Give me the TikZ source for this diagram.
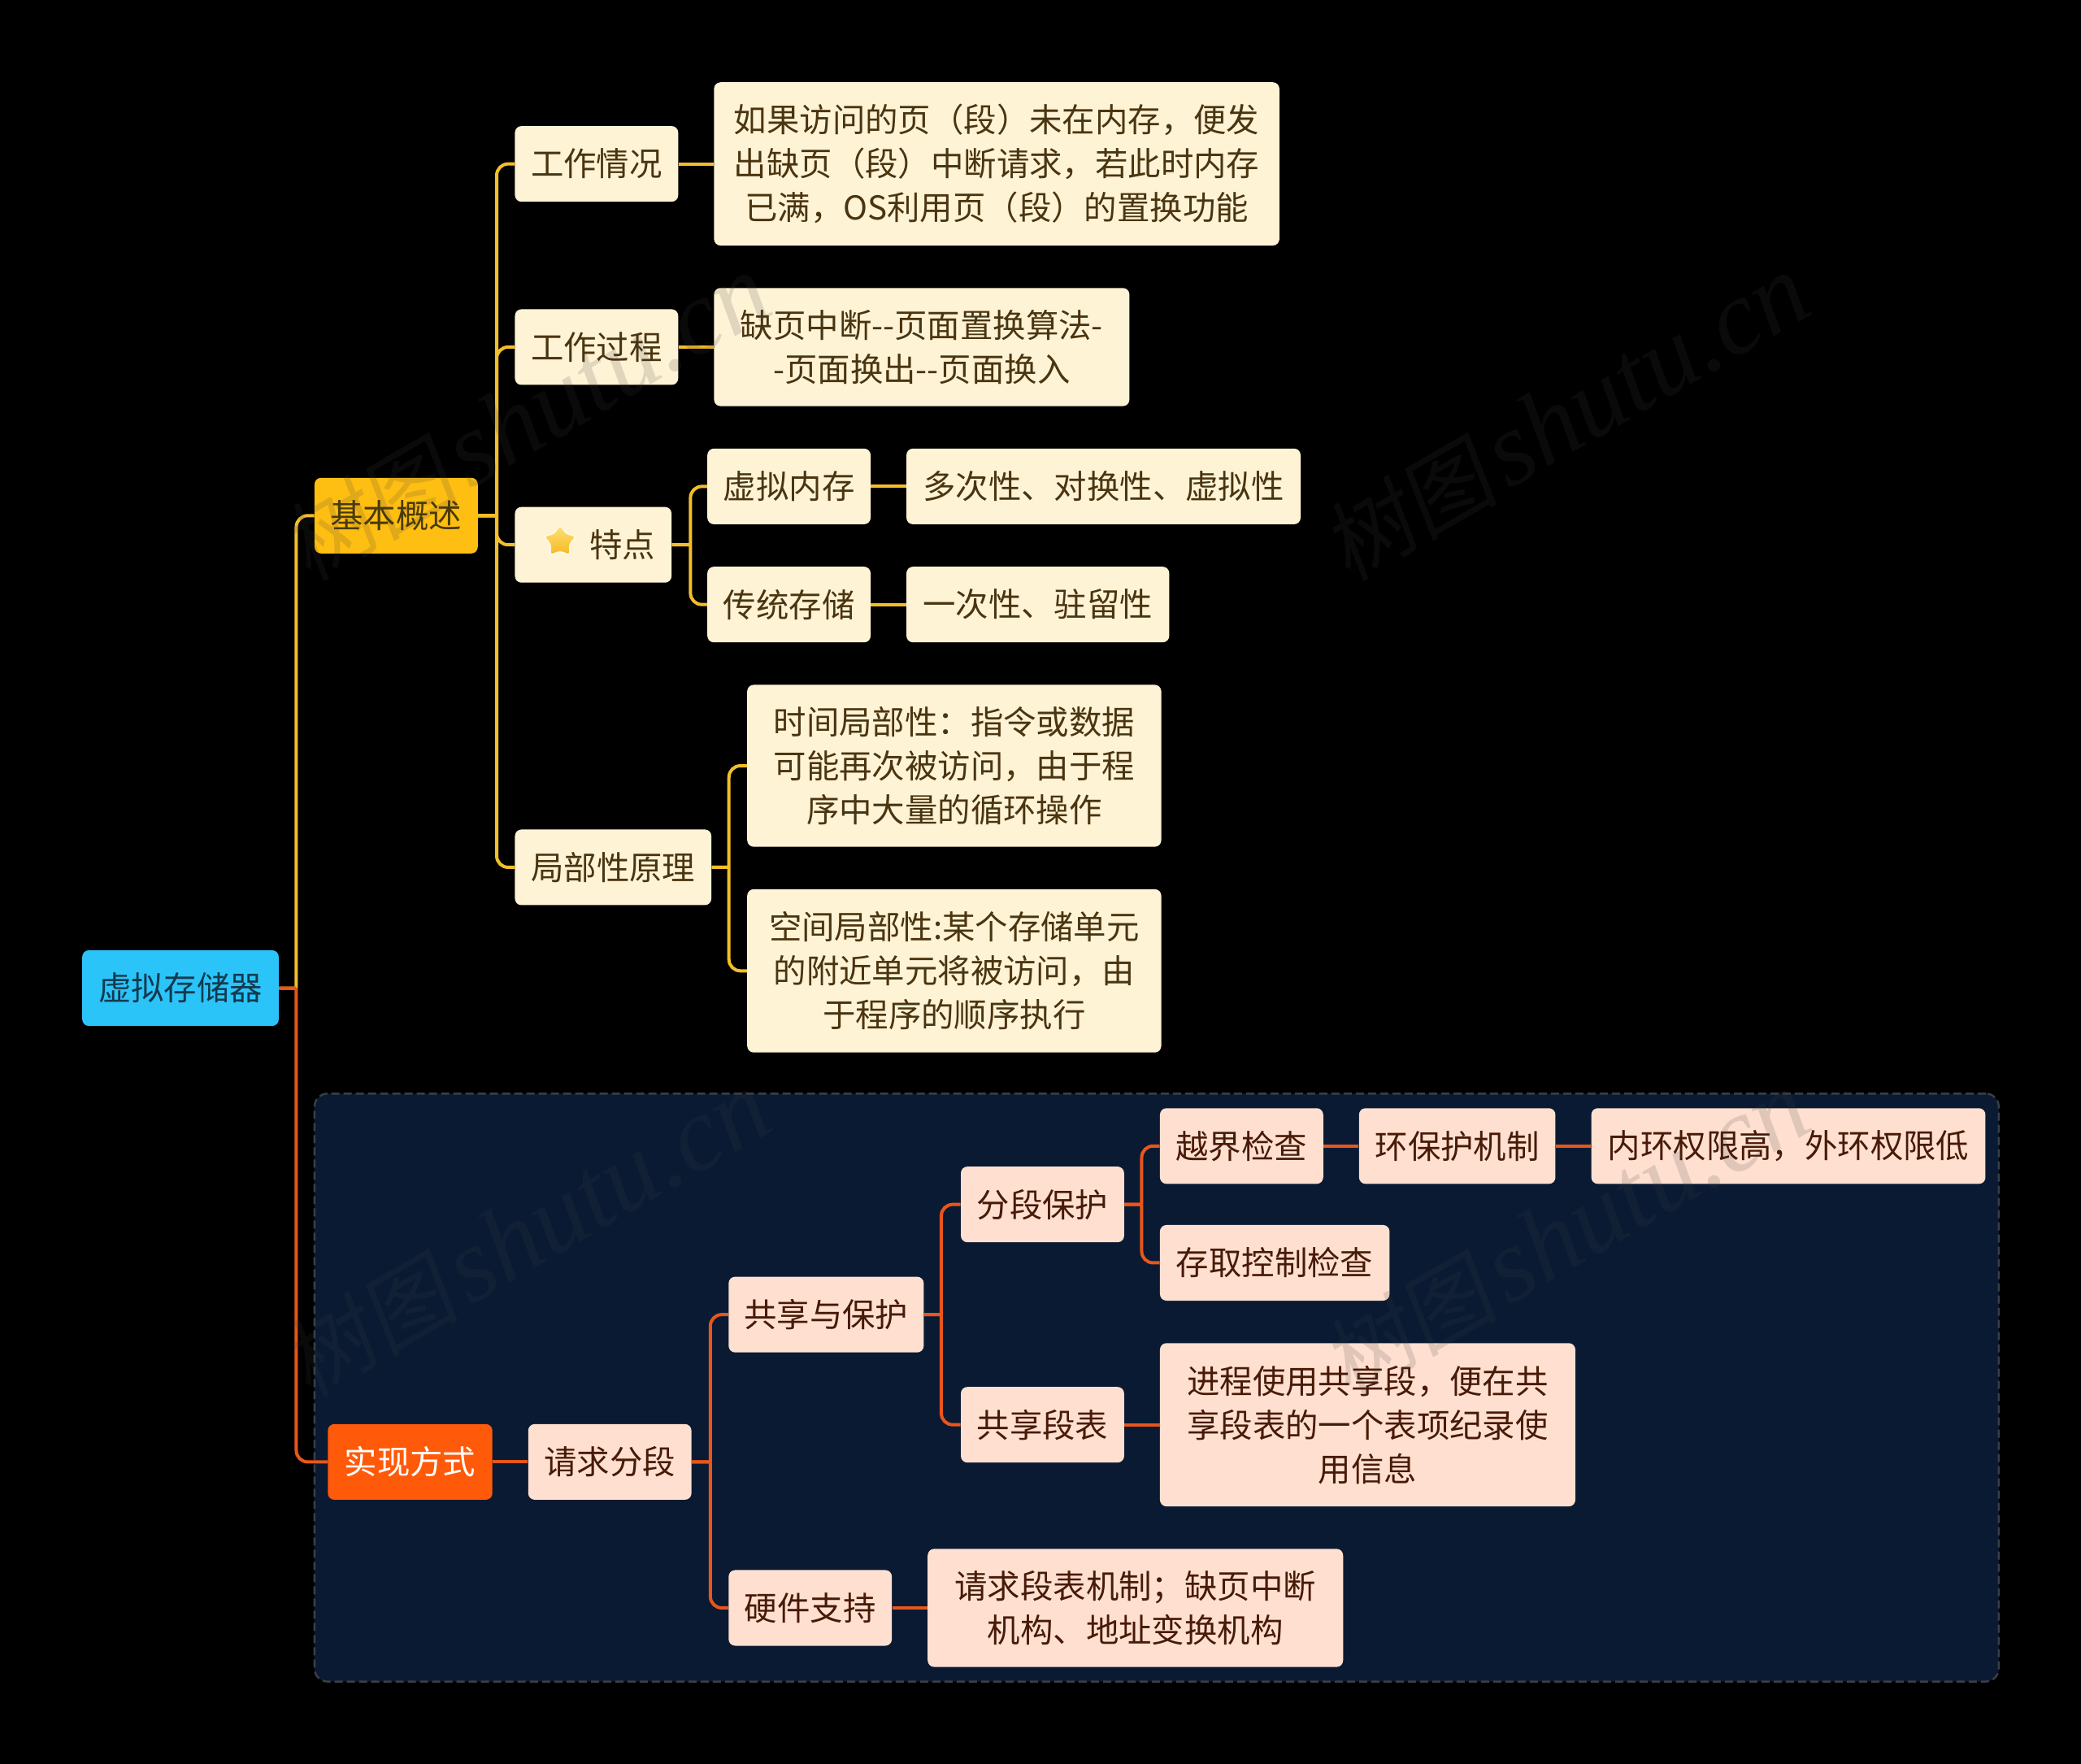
\documentclass[tikz,border=0pt]{standalone}
\usepackage{fontspec}
\setmainfont{Noto Sans CJK SC}
\newfontfamily\wmlatin{Liberation Serif}
\newfontfamily\wmcjk[FakeSlant=0.15]{Noto Sans CJK SC}
\usetikzlibrary{shapes.geometric}
\definecolor{rootfill}{HTML}{2BC4F9}
\definecolor{roottext}{HTML}{123A4E}
\definecolor{goldfill}{HTML}{FFBE12}
\definecolor{goldtext}{HTML}{4A3A08}
\definecolor{creamfill}{HTML}{FFF3D6}
\definecolor{creamtext}{HTML}{4A3510}
\definecolor{goldline}{HTML}{F2BE2A}
\definecolor{redfill}{HTML}{FF5A0A}
\definecolor{peachfill}{HTML}{FFE0D0}
\definecolor{peachtext}{HTML}{481A08}
\definecolor{redline}{HTML}{E8561C}
\definecolor{panelfill}{HTML}{0A1A33}
\definecolor{paneldash}{HTML}{3A3F46}
\definecolor{wmgray}{HTML}{404040}
\definecolor{startop}{HTML}{FFE27A}
\definecolor{starbottom}{HTML}{F4B820}
\definecolor{starhalo}{HTML}{FFF8E4}
\newcommand{\wmtext}{{\wmcjk\fontsize{54}{54}\selectfont 树图}\hspace{6pt}{\wmlatin\itshape\fontsize{65}{65}\selectfont shutu.cn}}
\tikzset{
  bx/.style n args={4}{at={({(#1+#3)/2},{(#2+#4)/2})},
    minimum width={(#3-#1)*0.8163pt},minimum height={(#4-#2)*0.8163pt}},
  nodebase/.style={rectangle,rounded corners=4pt,inner sep=0pt,align=center,
    font=\fontsize{20.2}{27}\selectfont},
  rootbox/.style={nodebase,fill=rootfill,text=roottext},
  goldbox/.style={nodebase,fill=goldfill,text=goldtext},
  creambox/.style={nodebase,fill=creamfill,text=creamtext},
  redbox/.style={nodebase,fill=redfill,text=white},
  peachbox/.style={nodebase,fill=peachfill,text=peachtext},
  goldedge/.style={draw=goldline,line width=2pt,rounded corners=7pt},
  rededge/.style={draw=redline,line width=2pt,rounded corners=7pt},
  wm/.style={text=wmgray,text opacity=0.16,rotate=30,inner sep=0pt},
}
\newcommand{\branchto}[4]{\draw[#1] (#2.east) -- +(#3,0) (#2.east) ++(#3,0) |- (#4.west);}
\begin{document}
\begin{tikzpicture}[x=0.8163pt,y=-0.8163pt]
\useasboundingbox (0,0) rectangle (1568,1329);
\fill[black] (0,0) rectangle (1568,1329);
\node[rectangle,rounded corners=8pt,fill=panelfill,draw=paneldash,dash pattern=on 5pt off 2.5pt,line width=1.2pt,bx={237}{824}{1506}{1267}] (panel) {};

\node[rootbox,bx={62}{716}{210}{773}] (root) {虚拟存储器};
\node[goldbox,bx={237}{360}{360}{417}] (basic) {基本概述};
\node[creambox,bx={388}{95}{511}{152}] (work) {工作情况};
\node[creambox,bx={538}{62}{964}{185}] (workd) {如果访问的页（段）未在内存，便发\\出缺页（段）中断请求，若此时内存\\已满，OS利用页（段）的置换功能};
\node[creambox,bx={388}{233}{511}{290}] (proc) {工作过程};
\node[creambox,bx={538}{217}{851}{306}] (procd) {缺页中断-{}-页面置换算法-\\-页面换出-{}-页面换入};
\node[creambox,bx={388}{382}{506}{439}] (feat) {\hspace{36pt}特点};
\node[star,star points=5,star point ratio=1.75,minimum size=21pt,inner sep=0pt,rounded corners=2pt,
  top color=startop,bottom color=starbottom,draw=starhalo,line width=0.8pt,at={(422,408)}] (staricon) {};
\node[creambox,bx={533}{338}{656}{395}] (vmem) {虚拟内存};
\node[creambox,bx={683}{338}{980}{395}] (vmemd) {多次性、对换性、虚拟性};
\node[creambox,bx={533}{427}{656}{484}] (trad) {传统存储};
\node[creambox,bx={683}{427}{881}{484}] (tradd) {一次性、驻留性};
\node[creambox,bx={388}{625}{536}{682}] (local) {局部性原理};
\node[creambox,bx={563}{516}{875}{638}] (ltime) {时间局部性：指令或数据\\可能再次被访问，由于程\\序中大量的循环操作};
\node[creambox,bx={563}{670}{875}{793}] (lspace) {空间局部性:某个存储单元\\的附近单元将被访问，由\\于程序的顺序执行};

\node[redbox,bx={247}{1073}{371}{1130}] (impl) {实现方式};
\node[peachbox,bx={398}{1073}{521}{1130}] (seg) {请求分段};
\node[peachbox,bx={549}{962}{696}{1019}] (share) {共享与保护};
\node[peachbox,bx={724}{879}{847}{936}] (segp) {分段保护};
\node[peachbox,bx={874}{835}{997}{892}] (bound) {越界检查};
\node[peachbox,bx={1024}{835}{1172}{892}] (ring) {环保护机制};
\node[peachbox,bx={1199}{835}{1496}{892}] (ringd) {内环权限高，外环权限低};
\node[peachbox,bx={874}{923}{1047}{980}] (access) {存取控制检查};
\node[peachbox,bx={724}{1045}{847}{1102}] (stab) {共享段表};
\node[peachbox,bx={874}{1012}{1187}{1135}] (stabd) {进程使用共享段，便在共\\享段表的一个表项纪录使\\用信息};
\node[peachbox,bx={549}{1183}{672}{1240}] (hw) {硬件支持};
\node[peachbox,bx={699}{1167}{1012}{1256}] (hwd) {请求段表机制；缺页中断\\机构、地址变换机构};

\branchto{goldedge}{root}{13}{basic}
\branchto{rededge}{root}{13}{impl}
\foreach \t in {work,proc,feat,local}
  {\branchto{goldedge}{basic}{14}{\t}}
\draw[goldedge] (work.east) -- (workd.west);
\draw[goldedge] (proc.east) -- (procd.west);
\foreach \t in {vmem,trad}
  {\branchto{goldedge}{feat}{14}{\t}}
\draw[goldedge] (vmem.east) -- (vmemd.west);
\draw[goldedge] (trad.east) -- (tradd.west);
\foreach \t in {ltime,lspace}
  {\branchto{goldedge}{local}{13}{\t}}

\draw[rededge] (impl.east) -- (seg.west);
\foreach \t in {share,hw}
  {\branchto{rededge}{seg}{14}{\t}}
\foreach \t in {segp,stab}
  {\branchto{rededge}{share}{13}{\t}}
\foreach \t in {bound,access}
  {\branchto{rededge}{segp}{13}{\t}}
\draw[rededge] (bound.east) -- (ring.west);
\draw[rededge] (ring.east) -- (ringd.west);
\draw[rededge] (stab.east) -- (stabd.west);
\draw[rededge] (hw.east) -- (hwd.west);

\node[wm] (wma) at (397,315) {\wmtext};
\node[wm] (wmb) at (1180,315) {\wmtext};
\node[wm] (wmc) at (397,930) {\wmtext};
\node[wm] (wmd) at (1180,930) {\wmtext};
\end{tikzpicture}
\end{document}
